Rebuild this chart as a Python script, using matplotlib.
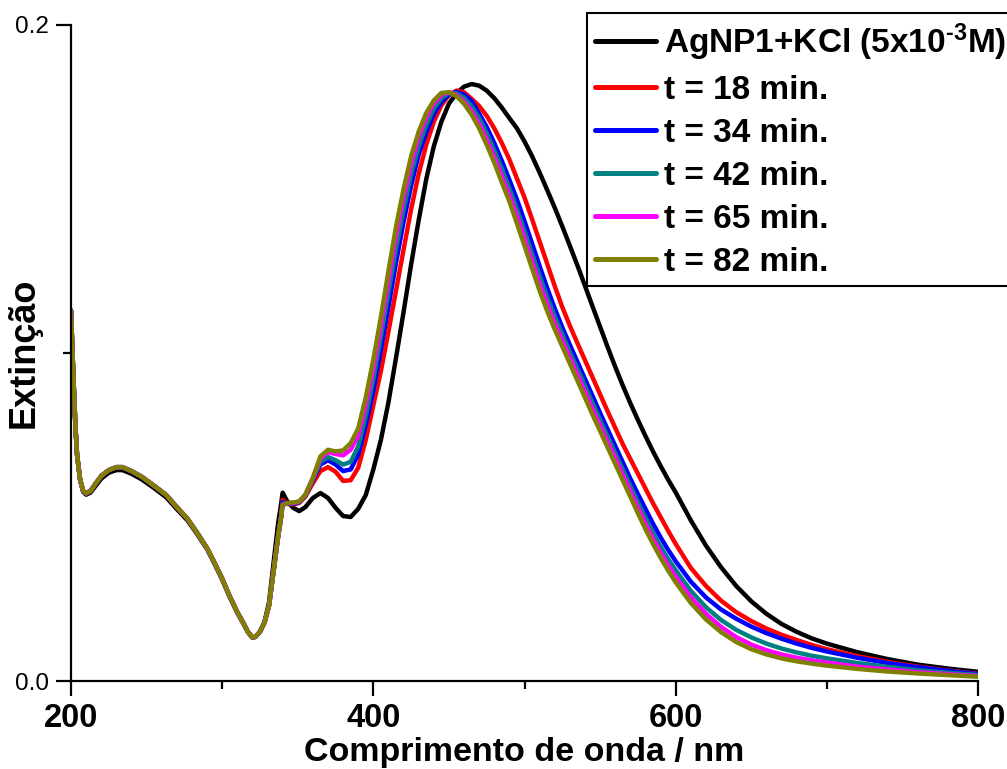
import matplotlib
matplotlib.use("Agg")
import matplotlib.pyplot as plt
from matplotlib.ticker import FixedLocator

plt.rcParams["font.family"] = ["Liberation Sans", "DejaVu Sans"]
plt.rcParams["mathtext.fontset"] = "custom"
plt.rcParams["mathtext.rm"] = "Liberation Sans:bold"
plt.rcParams["mathtext.bf"] = "Liberation Sans:bold"
plt.rcParams["mathtext.default"] = "bf"

# ---- data -------------------------------------------------------------
# UV region (200-339 nm): the spectra overlap almost exactly here
uv_wl = [200, 201, 202, 203, 204, 206, 208, 210, 213, 216, 220, 225, 230, 234,
         240, 247, 255, 263, 270, 277, 283, 290, 295, 300, 305, 310, 314, 317,
         320, 322, 325, 328, 331, 333, 335, 337, 339]
uv_black = [0.113, 0.100, 0.088, 0.077, 0.069, 0.0612, 0.0577, 0.0568, 0.0575,
            0.0593, 0.0617, 0.0635, 0.0643, 0.0643, 0.0632, 0.0614, 0.0588,
            0.0560, 0.0524, 0.0490, 0.0451, 0.0402, 0.0357, 0.0309, 0.0256,
            0.0208, 0.0175, 0.0149, 0.0132, 0.0134, 0.0150, 0.0180, 0.0240,
            0.0320, 0.0400, 0.0480, 0.0540]
uv_timed = [0.113, 0.100, 0.088, 0.077, 0.069, 0.0615, 0.0580, 0.0572, 0.0580,
            0.0600, 0.0625, 0.0643, 0.0652, 0.0652, 0.0640, 0.0622, 0.0595,
            0.0567, 0.0530, 0.0495, 0.0455, 0.0405, 0.0360, 0.0312, 0.0258,
            0.0210, 0.0177, 0.0150, 0.0133, 0.0135, 0.0150, 0.0178, 0.0230,
            0.0300, 0.0370, 0.0440, 0.0500]

# Visible region (340-800 nm)
vis_wl = [340, 343, 347, 351, 355, 360, 365, 370, 375, 380, 385, 390,
          395, 400, 405, 410, 415, 420, 425, 430, 435, 440, 445, 450, 455,
          460, 465, 470, 475, 480, 485, 490, 495, 500, 505, 510, 515, 520,
          525, 530, 535, 540, 545, 550, 555, 560, 565, 570, 575, 580, 585,
          590, 595, 600, 610, 620, 630, 640, 650, 660, 670, 680, 690, 700,
          720, 740, 760, 780, 800]

vis_black = [0.0574, 0.0548, 0.0528, 0.0518, 0.0530, 0.0558, 0.0573, 0.0558,
             0.0528, 0.0503, 0.0500, 0.0525,
             0.0567, 0.0645, 0.0735, 0.0850, 0.0985, 0.1125, 0.1270, 0.1405,
             0.1530, 0.1630, 0.1705, 0.1760, 0.1792, 0.1812, 0.1820, 0.1815,
             0.1800, 0.1777, 0.1748, 0.1716, 0.1685, 0.1645, 0.1600, 0.1550,
             0.1497, 0.1443, 0.1386, 0.1327, 0.1267, 0.1205, 0.1142, 0.1080,
             0.1018, 0.0958, 0.0901, 0.0847, 0.0796, 0.0747, 0.0700, 0.0656,
             0.0614, 0.0575, 0.0490, 0.0413, 0.0347, 0.0290, 0.0243, 0.0205,
             0.0174, 0.0150, 0.0130, 0.0114, 0.0088, 0.0067, 0.0050, 0.0038,
             0.0028]

vis_18 = [0.0552, 0.0540, 0.0538, 0.0543, 0.0562, 0.0603, 0.0640, 0.0652,
          0.0638, 0.0610, 0.0612, 0.0650,
          0.0735, 0.0840, 0.0945, 0.1065, 0.1190, 0.1315, 0.1438, 0.1546,
          0.1635, 0.1705, 0.1755, 0.1786, 0.1800, 0.1795, 0.1775, 0.1753,
          0.1723, 0.1685, 0.1640, 0.1590, 0.1532, 0.1474, 0.1408, 0.1340,
          0.1272, 0.1204, 0.1140, 0.1083, 0.1030, 0.0978, 0.0926, 0.0874,
          0.0822, 0.0772, 0.0722, 0.0677, 0.0632, 0.0587, 0.0542, 0.0500,
          0.0458, 0.0418, 0.0345, 0.0290, 0.0245, 0.0210, 0.0183, 0.0160,
          0.0141, 0.0125, 0.0110, 0.0097, 0.0076, 0.0058, 0.0044, 0.0032,
          0.0022]

vis_34 = [0.0545, 0.0542, 0.0540, 0.0545, 0.0565, 0.0612, 0.0660, 0.0673,
          0.0660, 0.0640, 0.0645, 0.0690,
          0.0780, 0.0885, 0.1010, 0.1140, 0.1275, 0.1400, 0.1510, 0.1605,
          0.1672, 0.1728, 0.1765, 0.1788, 0.1796, 0.1788, 0.1768, 0.1730,
          0.1689, 0.1640, 0.1586, 0.1528, 0.1468, 0.1402, 0.1334, 0.1265,
          0.1198, 0.1136, 0.1078, 0.1025, 0.0973, 0.0921, 0.0869, 0.0817,
          0.0767, 0.0717, 0.0667, 0.0617, 0.0570, 0.0525, 0.0480, 0.0438,
          0.0400, 0.0365, 0.0303, 0.0255, 0.0218, 0.0190, 0.0166, 0.0146,
          0.0129, 0.0114, 0.0101, 0.0090, 0.0071, 0.0055, 0.0042, 0.0031,
          0.0021]

vis_42 = [0.0540, 0.0542, 0.0542, 0.0546, 0.0566, 0.0615, 0.0668, 0.0683,
          0.0673, 0.0660, 0.0668, 0.0715,
          0.0808, 0.0920, 0.1050, 0.1185, 0.1318, 0.1438, 0.1545, 0.1630,
          0.1695, 0.1745, 0.1777, 0.1793, 0.1792, 0.1778, 0.1752, 0.1716,
          0.1670, 0.1618, 0.1562, 0.1502, 0.1438, 0.1372, 0.1303, 0.1235,
          0.1170, 0.1112, 0.1056, 0.1003, 0.0952, 0.0900, 0.0848, 0.0796,
          0.0745, 0.0695, 0.0645, 0.0595, 0.0546, 0.0498, 0.0452, 0.0410,
          0.0372, 0.0338, 0.0275, 0.0225, 0.0186, 0.0156, 0.0133, 0.0114,
          0.0099, 0.0087, 0.0077, 0.0069, 0.0055, 0.0043, 0.0033, 0.0025,
          0.0018]

vis_65 = [0.0537, 0.0542, 0.0543, 0.0547, 0.0567, 0.0618, 0.0678, 0.0698,
          0.0692, 0.0688, 0.0705, 0.0748,
          0.0840, 0.0952, 0.1082, 0.1220, 0.1355, 0.1473, 0.1575, 0.1657,
          0.1718, 0.1760, 0.1787, 0.1795, 0.1787, 0.1767, 0.1738, 0.1699,
          0.1651, 0.1598, 0.1540, 0.1481, 0.1418, 0.1350, 0.1280, 0.1212,
          0.1149, 0.1091, 0.1038, 0.0986, 0.0934, 0.0882, 0.0830, 0.0779,
          0.0729, 0.0680, 0.0629, 0.0579, 0.0529, 0.0480, 0.0434, 0.0392,
          0.0353, 0.0318, 0.0255, 0.0205, 0.0165, 0.0134, 0.0111, 0.0094,
          0.0081, 0.0071, 0.0063, 0.0056, 0.0044, 0.0035, 0.0027, 0.0021,
          0.0015]

vis_82 = [0.0535, 0.0543, 0.0544, 0.0548, 0.0568, 0.0620, 0.0685, 0.0705,
          0.0700, 0.0703, 0.0725, 0.0770,
          0.0865, 0.0980, 0.1110, 0.1250, 0.1385, 0.1500, 0.1600, 0.1675,
          0.1732, 0.1770, 0.1793, 0.1795, 0.1783, 0.1760, 0.1727, 0.1685,
          0.1635, 0.1580, 0.1520, 0.1462, 0.1395, 0.1327, 0.1258, 0.1190,
          0.1128, 0.1072, 0.1020, 0.0968, 0.0916, 0.0864, 0.0812, 0.0762,
          0.0712, 0.0662, 0.0612, 0.0562, 0.0512, 0.0463, 0.0418, 0.0376,
          0.0337, 0.0301, 0.0238, 0.0188, 0.0149, 0.0119, 0.0097, 0.0081,
          0.0069, 0.0060, 0.0053, 0.0047, 0.0037, 0.0029, 0.0023, 0.0018,
          0.0013]

labels = [r"AgNP1+KCl (5x10$^{\text{-3}}$M)", "t = 18 min.", "t = 34 min.",
          "t = 42 min.", "t = 65 min.", "t = 82 min."]
colors = ["#000000", "#FF0000", "#0000FF", "#008080", "#FF00FF", "#808000"]

x_major = [200, 400, 600, 800]
x_minor = [300, 500, 700]
y_major = [0.0, 0.2]
y_minor = [0.1]
y_major_labels = ["0.0", "0.2"]

# ---- figure -------------------------------------------------------------
W, H = 1007, 769
fig = plt.figure(figsize=(W / 100, H / 100), dpi=100)
ax = fig.add_axes([71 / W, 1 - 681 / H, (978 - 71) / W, (681 - 25) / H])

wl = uv_wl + vis_wl
series = [uv_black + vis_black, uv_timed + vis_18, uv_timed + vis_34,
          uv_timed + vis_42, uv_timed + vis_65, uv_timed + vis_82]
for ys, c, lab in zip(series, colors, labels):
    ax.plot(wl, ys, color=c, lw=3.2, label=lab, solid_joinstyle="round",
            solid_capstyle="round")

ax.set_xlim(200, 800)
ax.set_ylim(0.0, 0.2)
for s in ("top", "right"):
    ax.spines[s].set_visible(False)
for s in ("left", "bottom"):
    ax.spines[s].set_linewidth(1.6)

ax.xaxis.set_major_locator(FixedLocator(x_major))
ax.xaxis.set_minor_locator(FixedLocator(x_minor))
ax.yaxis.set_major_locator(FixedLocator(y_major))
ax.yaxis.set_minor_locator(FixedLocator(y_minor))
ax.set_yticklabels(y_major_labels)
ax.tick_params(axis="both", which="major", direction="out", length=11,
               width=1.6)
ax.tick_params(axis="both", which="minor", direction="out", length=6,
               width=1.6)
ax.tick_params(axis="x", which="major", labelsize=23.5, pad=5)
ax.tick_params(axis="y", which="major", labelsize=17.5, pad=5)
for t in ax.get_xticklabels():
    t.set_fontweight("bold")

ax.set_xlabel("Comprimento de onda / nm", fontsize=24.5, fontweight="bold",
              labelpad=2)
ax.set_ylabel("Extinção", fontsize=26, fontweight="bold")
ax.yaxis.set_label_coords(-0.032, 0.5)

leg = ax.legend(loc="upper left", bbox_to_anchor=(587 / W, 1 - 13 / H),
                bbox_transform=fig.transFigure, borderaxespad=0,
                frameon=True, fancybox=False, edgecolor="black",
                framealpha=1, prop={"size": 24, "weight": "bold"},
                handlelength=1.83, handletextpad=0.24, labelspacing=0.36,
                borderpad=0.25)
leg.get_frame().set_linewidth(1.5)
for ln in leg.get_lines():
    ln.set_linewidth(3.6)

fig.savefig("out.png", dpi=100)
